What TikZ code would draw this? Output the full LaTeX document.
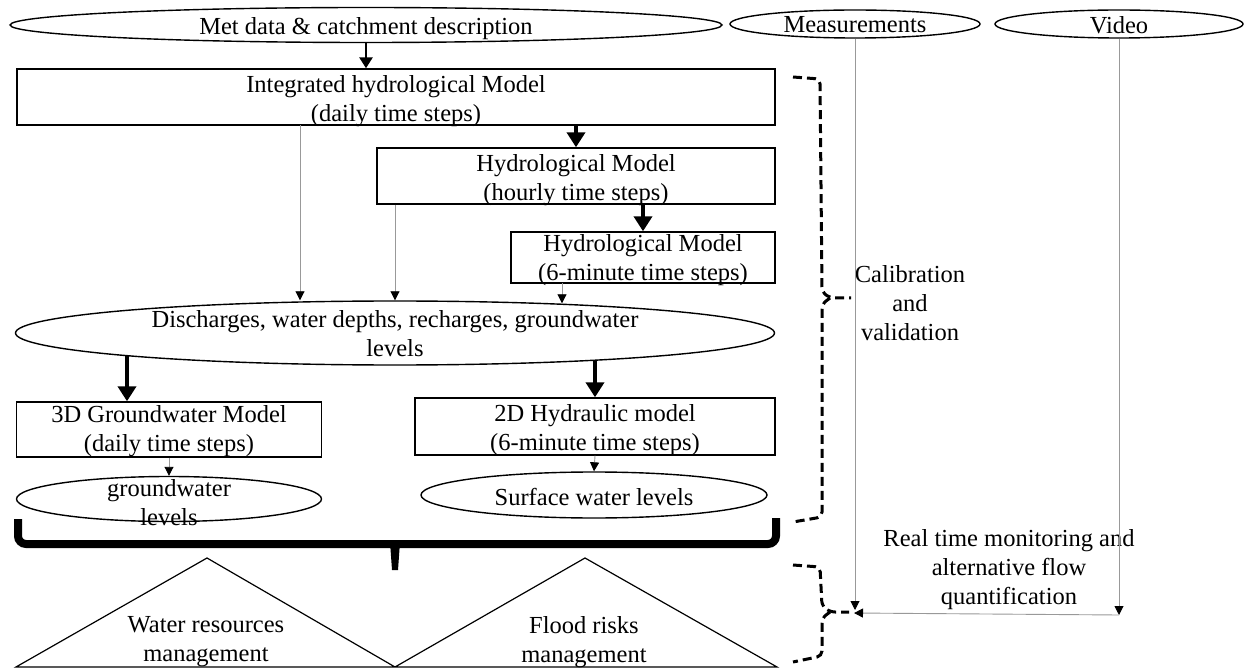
\documentclass[tikz,border=0pt]{standalone}
\usepackage{fontspec}
\setmainfont{Liberation Serif}
\usetikzlibrary{arrows.meta,calc,shapes.geometric}

\tikzset{
  oval/.style={ellipse, draw, line width=1.4pt, inner sep=0pt},
  mbox/.style={rectangle, draw, line width=1.4pt, inner sep=0pt},
  txt/.style={align=center, font=\fontsize{24.5pt}{29pt}\selectfont},
  every label/.style={txt},
  thinflow/.style={draw=black!40, line width=0.9pt, -{Triangle[length=9pt,width=9pt,color=black]}},
  mainflow/.style={line width=4.5pt, -{Triangle[length=15pt,width=18pt]}},
  inflow/.style={line width=2.8pt, -{Triangle[length=11pt,width=13pt]}},
  calbrace/.style={line width=3pt, dash pattern=on 9pt off 5pt, rounded corners=5pt},
}

\begin{document}
\begin{tikzpicture}[x=1pt,y=-1pt]
  \path[fill=white,use as bounding box] (0,0) rectangle (1245,668);

  % inputs
  \node[oval, minimum width=712, minimum height=35, label={[yshift=-4pt]center:Met data \& catchment description}] (met) at (366,25) {};
  \node[oval, minimum width=250, minimum height=28, label={[yshift=-1pt]center:Measurements}] (meas) at (855,24) {};
  \node[oval, minimum width=248, minimum height=28, label={[yshift=-1pt]center:Video}] (video) at (1119,24) {};

  % hydrological model chain
  \node[mbox, minimum width=758, minimum height=56, label={[yshift=-4pt]center:Integrated hydrological Model\\(daily time steps)}] (integ) at (396,97) {};
  \node[mbox, minimum width=398, minimum height=56, label={[yshift=-4pt]center:Hydrological Model\\(hourly time steps)}] (hourly) at (576,176) {};
  \node[mbox, minimum width=264, minimum height=51, label={[yshift=-3pt]center:Hydrological Model\\(6-minute time steps)}] (sixmin) at (643,257.5) {};
  \node[oval, minimum width=759, minimum height=64, label={[yshift=-1pt]center:Discharges, water depths, recharges, groundwater\\levels}] (disch) at (395,333) {};

  % groundwater and hydraulic models
  \node[mbox, minimum width=305, minimum height=55, label={[yshift=-2pt]center:3D Groundwater Model\\(daily time steps)}] (gwmodel) at (169,429.5) {};
  \node[mbox, minimum width=360, minimum height=57, label={[yshift=-4pt]center:2D Hydraulic model\\(6-minute time steps)}] (hydr) at (595,426.5) {};
  \node[oval, minimum width=305, minimum height=45, label={[yshift=-4pt]center:groundwater\\levels}] (gw) at (169,499) {};
  \node[oval, minimum width=346, minimum height=46, label={[yshift=-2pt]center:Surface water levels}] (surf) at (594,495) {};

  % outcomes
  \draw[line width=1.2pt] (16,667) -- (207,558) -- (395,667) -- (585,558) -- (777,667) -- cycle;
  \node[txt] (wrm) at (206,642) {Water resources\\management};
  \node[txt] (frm) at (584,642) {Flood risks\\management};
  \node[txt] (calib) at (910,303) {Calibration\\and\\validation};
  \node[txt] (rtm) at (1009,570) {Real time monitoring and\\alternative flow\\quantification};

  % arrows between models
  \draw[inflow] (met.south) -- (met.south |- integ.north);
  \draw[mainflow] (hourly |- integ.south) -- (hourly.north);
  \draw[mainflow] (sixmin |- hourly.south) -- (sixmin.north);
  \coordinate (i1) at (300,125);
  \coordinate (s1) at (562,283);
  \draw[thinflow] (i1) -- (i1 |- disch.north);
  \draw[thinflow] (disch |- hourly.south) -- (disch.north);
  \draw[thinflow] (s1) -- ($(s1 |- disch.north)+(0,3)$);
  \coordinate (d1) at (127,356);
  \coordinate (d2) at (595,360);
  \draw[mainflow] (d1) -- (d1 |- gwmodel.north);
  \draw[mainflow] (d2) -- (hydr.north);
  \draw[thinflow] (gwmodel.south) -- (gw.north);
  \draw[thinflow] (hydr.south) -- (surf.north);

  % brace over the outcomes
  \draw[line width=8pt, rounded corners=8pt] (18,519) |- (776,544) -- (776,518);
  \fill (390,542) -- (400,542) -- (398,570) -- (392,570) -- cycle;

  % calibration and monitoring brackets
  \draw[calbrace] (793,77) -- (820,79) -- (822,292) -- (830,298) -- (851,298);
  \draw[calbrace] (830,298) -- (822,304) -- (822,517) -- (793,522);
  \draw[calbrace] (793,565) -- (820,567) -- (822,606) -- (830,612) -- (849,612);
  \draw[calbrace] (830,612) -- (822,618) -- (822,656) -- (793,662);

  \coordinate (meet) at (855,610);
  \coordinate (vlevel) at (0,615);
  \coordinate (vbase) at (video.south |- vlevel);
  \draw[thinflow] (meas.south) -- (meet);
  \draw[thinflow] (video.south) -- (vbase);
  \draw[thinflow] (vbase) -- (854,613);
\end{tikzpicture}
\end{document}
